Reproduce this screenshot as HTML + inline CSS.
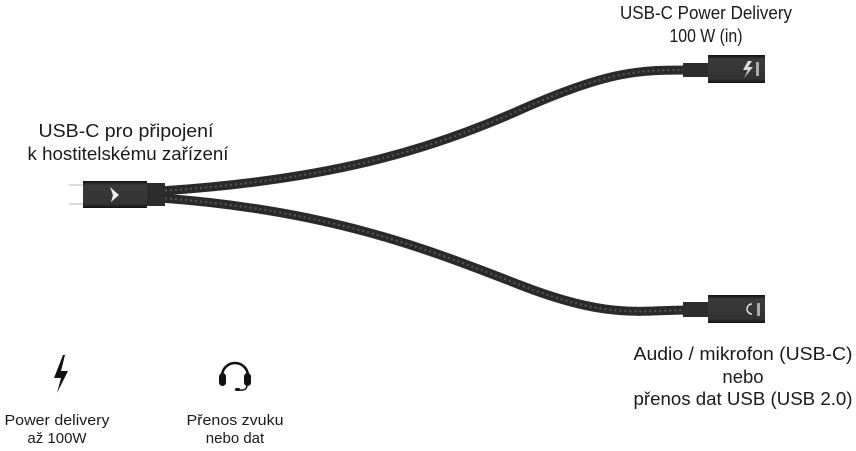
<!DOCTYPE html>
<html><head><meta charset="utf-8"><style>
body{margin:0;background:#fff;}
svg{display:block}
text{font-family:"Liberation Sans",sans-serif;fill:#1a1a1a;}
</style></head><body>
<svg width="856" height="451" viewBox="0 0 856 451">
<defs>
<linearGradient id="bd" x1="0" y1="0" x2="0" y2="1"><stop offset="0" stop-color="#111"/><stop offset="0.15" stop-color="#3a3a3a"/><stop offset="0.85" stop-color="#333"/><stop offset="1" stop-color="#111"/></linearGradient>
</defs>
<path d="M160 191 C 330 180, 430 150, 520 110 S 640 70, 690 70" stroke="#2a2a2a" stroke-width="9" fill="none"/>
<path d="M160 191 C 330 180, 430 150, 520 110 S 640 70, 690 70" stroke="#555" stroke-width="2" stroke-dasharray="2 3" fill="none"/>
<path d="M160 198 C 330 210, 430 250, 520 285 S 640 310, 690 310" stroke="#2a2a2a" stroke-width="9" fill="none"/>
<path d="M160 198 C 330 210, 430 250, 520 285 S 640 310, 690 310" stroke="#555" stroke-width="2" stroke-dasharray="2 3" fill="none"/>
<line x1="69" y1="185" x2="84" y2="185" stroke="#bbb" stroke-width="1"/>
<line x1="69" y1="204" x2="84" y2="204" stroke="#bbb" stroke-width="1"/>
<rect x="83" y="181" width="64" height="27" fill="url(#bd)"/>
<rect x="147" y="183" width="18" height="23" fill="#2c2c2c"/>
<path d="M110 187 L119 195 L111 202 L113 195 Z" fill="#eee"/>
<rect x="683" y="63" width="25" height="14" fill="#2c2c2c"/>
<rect x="708" y="55" width="57" height="28" fill="url(#bd)"/>
<path d="M748 61 L743 70 L748 70 L744 78 L753 67 L748 67 L752 61Z" fill="#ddd"/>
<rect x="756" y="62" width="3" height="14" fill="#aaa"/>
<rect x="683" y="302" width="25" height="15" fill="#2c2c2c"/>
<rect x="708" y="295" width="57" height="28" fill="url(#bd)"/>
<path d="M752 304 A5 5 0 1 0 752 314" stroke="#ddd" stroke-width="1.5" fill="none"/>
<rect x="757" y="303" width="3" height="13" fill="#aaa"/>
<g font-size="18.5" text-anchor="middle">
<text x="706" y="19" textLength="172" lengthAdjust="spacingAndGlyphs">USB-C Power Delivery</text>
<text x="706" y="42" textLength="73" lengthAdjust="spacingAndGlyphs">100 W (in)</text>
<text x="126" y="137" textLength="175" lengthAdjust="spacingAndGlyphs">USB-C pro připojení</text>
<text x="128" y="160" textLength="201" lengthAdjust="spacingAndGlyphs">k hostitelskému zařízení</text>
<text x="743" y="360" textLength="219" lengthAdjust="spacingAndGlyphs">Audio / mikrofon (USB-C)</text>
<text x="743" y="383">nebo</text>
<text x="743" y="405" textLength="219" lengthAdjust="spacingAndGlyphs">přenos dat USB (USB 2.0)</text>
</g>
<g font-size="15" text-anchor="middle">
<text x="57" y="425" textLength="105" lengthAdjust="spacingAndGlyphs">Power delivery</text>
<text x="57" y="443">až 100W</text>
<text x="235" y="425" textLength="97" lengthAdjust="spacingAndGlyphs">Přenos zvuku</text>
<text x="235" y="443">nebo dat</text>
</g>
<path d="M63 355 L54 378 L61 378 L57 393 L68 371 L61 371 L65 355Z" fill="#111"/>
<g fill="#111">
<path d="M222 376 A13 13 0 0 1 248 376" stroke="#111" stroke-width="2.5" fill="none"/>
<rect x="219" y="373" width="7" height="13" rx="3.5"/>
<rect x="244" y="373" width="7" height="13" rx="3.5"/>
<path d="M247 385 Q247 391 239 390" stroke="#111" stroke-width="1.5" fill="none"/>
<rect x="235" y="388" width="5" height="3" rx="1.5"/>
</g>
</svg>
</body></html>
